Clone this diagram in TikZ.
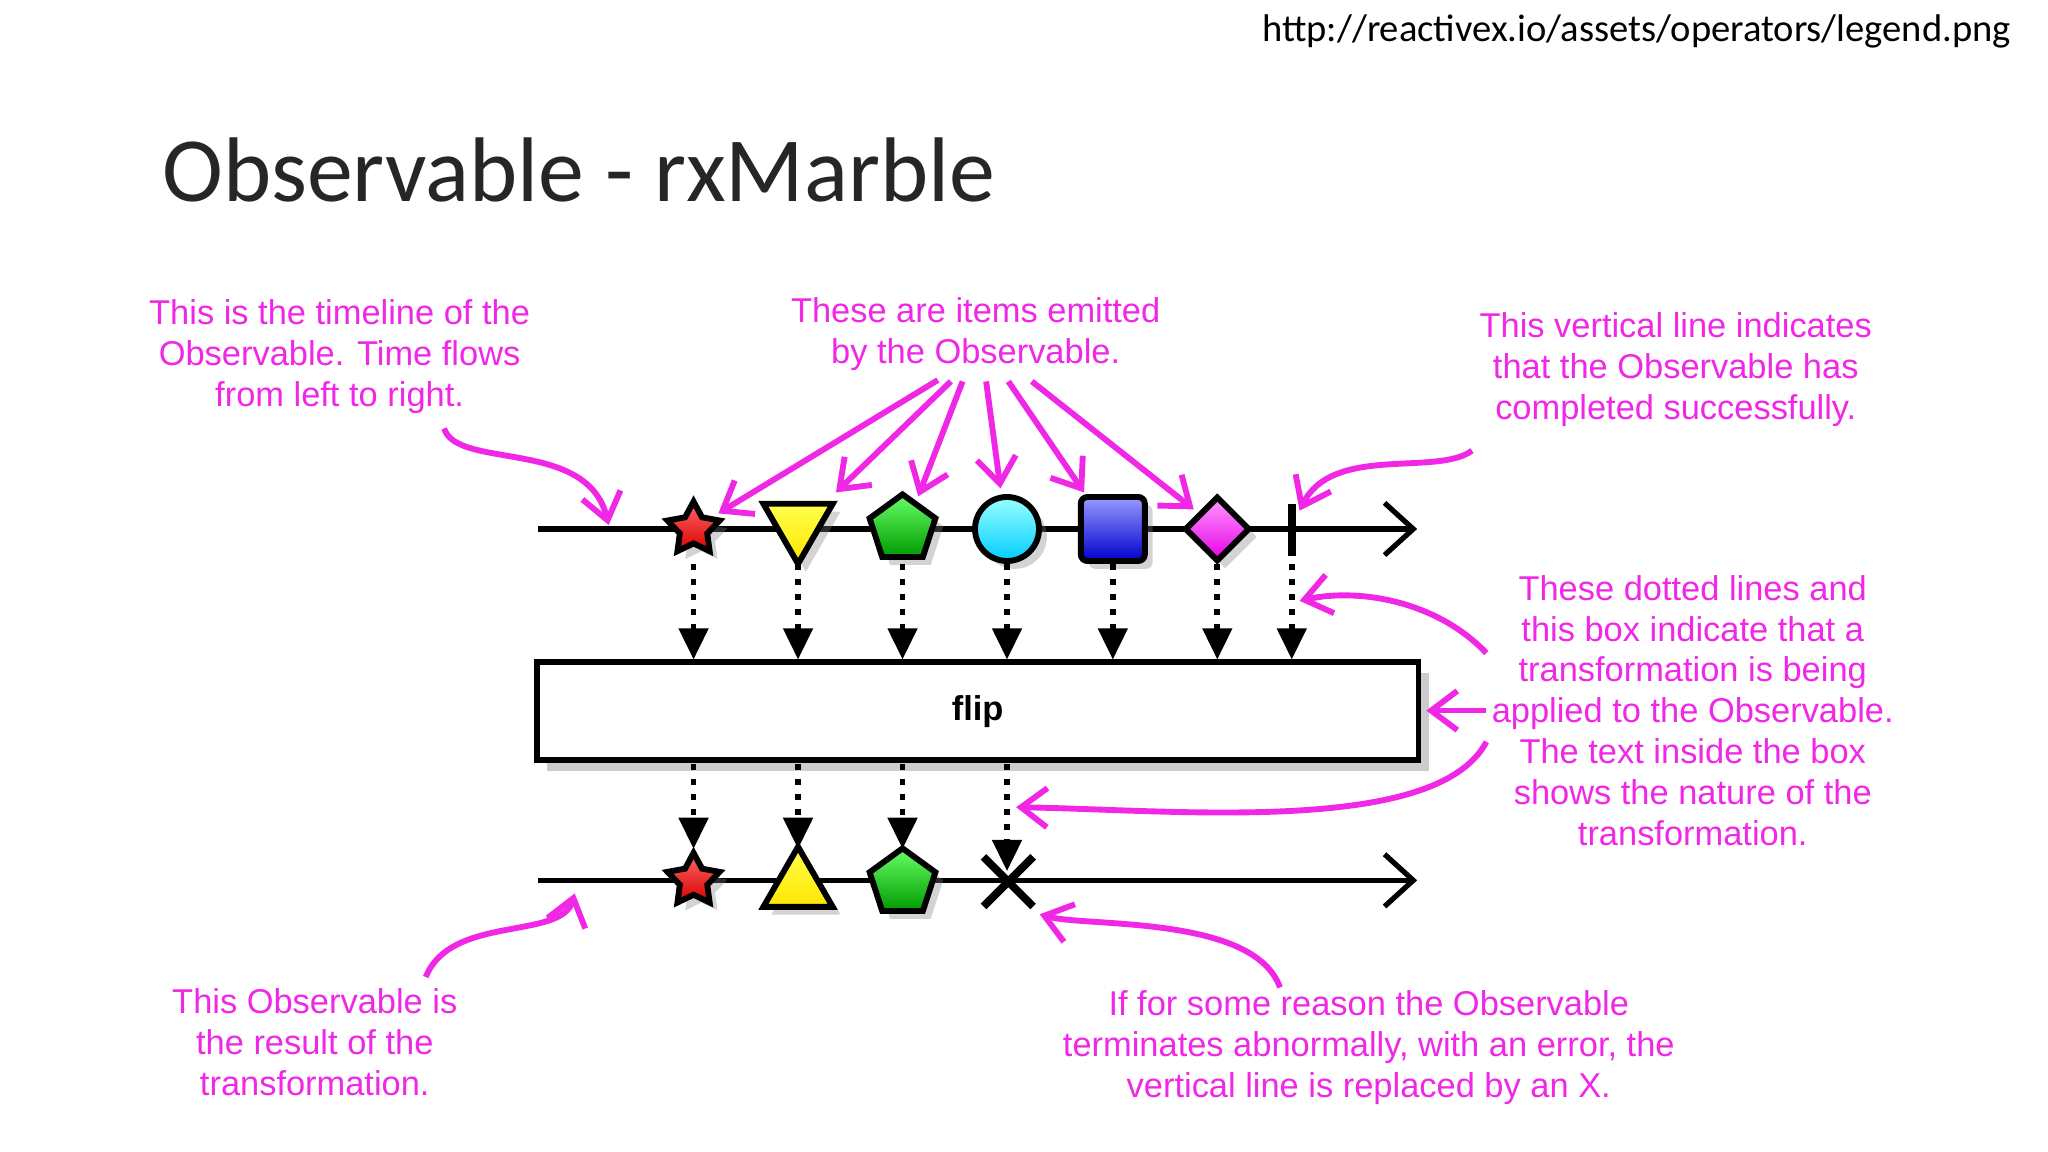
\documentclass[tikz,border=0pt]{standalone}
\usepackage{fontspec}
\setmainfont{Liberation Sans}
\newfontfamily\calib{Carlito}
\usetikzlibrary{arrows.meta,shapes.geometric,shadows}
\definecolor{pk}{RGB}{240,40,230}
\begin{document}
\begin{tikzpicture}[x=0.1mm,y=-0.1mm,
  note/.style={text=pk,align=center,font=\fontsize{7.5pt}{8.9pt}\selectfont},
  pa/.style={draw=pk,line width=0.45mm,-{Straight Barb[length=2mm,width=3mm]}},
  tl/.style={line width=0.4mm,-{Straight Barb[length=2.2mm,width=4mm]}},
  dot/.style={line width=0.45mm,dotted,-{Triangle[length=2.4mm,width=2.2mm]}},
  it/.style={draw=black,line width=0.45mm,inner sep=0pt,drop shadow={opacity=0.35,shadow xshift=0.6mm,shadow yshift=-0.6mm}},
]
\useasboundingbox (0,0) rectangle (1568,882);
\node[anchor=east,font=\calib\fontsize{8.4pt}{10pt}\selectfont] (url) at (1552,24) {http://reactivex.io/assets/operators/legend.png};
\node[anchor=west,font=\calib\fontsize{20pt}{22pt}\selectfont,text=black!85] (title) at (112,130) {Observable - rxMarble};

% timelines
\coordinate (t1s) at (412,405); \coordinate (t1e) at (1085,405);
\coordinate (t2s) at (412,674); \coordinate (t2e) at (1085,674);
\draw[tl] (t1s) -- (t1e);
\draw[tl] (t2s) -- (t2e);

% box
\node[draw,line width=0.45mm,fill=white,minimum width=67.5mm,minimum height=7.5mm,font=\bfseries\fontsize{7.5pt}{8pt}\selectfont,drop shadow={opacity=0.4,shadow xshift=0.8mm,shadow yshift=-0.8mm}] (box) at (748.5,544.5) {flip};

% top items
\node[it,star,star points=5,star point ratio=1.9,minimum size=4.2mm,top color=red!60!white,bottom color=red!85!black] (a1) at (531,405) {};
\node[it,isosceles triangle,isosceles triangle apex angle=60,shape border rotate=-90,minimum size=4.6mm,top color=yellow!70!white,bottom color=yellow!80!orange] (a2) at (611,401) {};
\node[it,regular polygon,regular polygon sides=5,minimum size=5.3mm,top color=green!60!white,bottom color=green!60!black] (a3) at (691,405) {};
\node[it,circle,minimum size=4.9mm,top color=cyan!40!white,bottom color=cyan!80!blue] (a4) at (771,405) {};
\node[it,rectangle,rounded corners=0.5mm,minimum size=4.9mm,top color=blue!40!white,bottom color=blue!80!black] (a5) at (852,405) {};
\node[it,diamond,minimum size=5mm,top color=magenta!40!white,bottom color=magenta!90!black] (a6) at (932,405) {};
\coordinate (c7) at (989,405);
\draw[line width=0.6mm] (989,386) -- (989,426);

% dotted arrows in
\foreach \x in {531,611,691,771,852,932,989}{
  \draw[dot] (\x,432) -- (\x,505);
}
\foreach \x in {531,611,691}{
  \draw[dot] (\x,585) -- (\x,650);
}
\draw[dot] (771,585) -- (771,667);

% bottom items
\node[it,star,star points=5,star point ratio=1.9,minimum size=4.2mm,top color=red!60!white,bottom color=red!85!black] (b1) at (531,674) {};
\node[it,isosceles triangle,isosceles triangle apex angle=60,shape border rotate=90,minimum size=4.6mm,top color=yellow!70!white,bottom color=yellow!80!orange] (b2) at (611,679) {};
\node[it,regular polygon,regular polygon sides=5,minimum size=5.3mm,top color=green!60!white,bottom color=green!60!black] (b3) at (691,676) {};
\draw[line width=0.6mm] (753,656) -- (791,694) (753,694) -- (791,656);
\coordinate (bx) at (771,674);

% notes
\node[note] (n1) at (260,273) {This is the timeline of the\\Observable. Time flows\\from left to right.};
\node[note] (n2) at (747,256) {These are items emitted\\by the Observable.};
\node[note] (n3) at (1283,283) {This vertical line indicates\\that the Observable has\\completed successfully.};
\node[note] (n4) at (1296,544) {These dotted lines and\\this box indicate that a\\transformation is being\\applied to the Observable.\\The text inside the box\\shows the nature of the\\transformation.};
\node[note] (n5) at (241,798) {This Observable is\\the result of the\\transformation.};
\node[note] (n6) at (1048,802) {If for some reason the Observable\\terminates abnormally, with an error, the\\vertical line is replaced by an X.};

% pink arrows
\draw[pa] (340,328) .. controls (350,360) and (450,335) .. (466,402);
\draw[pa] (718,291) -- (550,393);
\draw[pa] (728,292) -- (640,377);
\draw[pa] (737,292) -- (703,380);
\draw[pa] (755,292) -- (766,374);
\draw[pa] (772,292) -- (830,377);
\draw[pa] (790,292) -- (914,390);
\draw[pa] (1127,345) .. controls (1100,365) and (1020,340) .. (995,391);
\draw[pa] (1138,500) .. controls (1100,460) and (1040,450) .. (995,460);
\draw[pa] (1138,544) -- (1092,544);
\draw[pa] (1138,568) .. controls (1100,640) and (900,620) .. (778,618);
\draw[pa] (326,748) .. controls (345,700) and (430,720) .. (440,684);
\draw[pa] (980,756) .. controls (960,700) and (830,710) .. (796,700);
\end{tikzpicture}
\end{document}
